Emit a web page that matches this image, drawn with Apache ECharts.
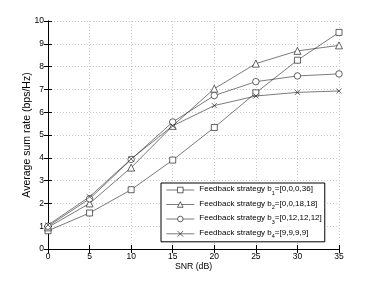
<!DOCTYPE html>
<html><head><meta charset="utf-8">
<script src="https://cdn.jsdelivr.net/npm/echarts@6/dist/echarts.min.js"></script>
<style>html,body{margin:0;padding:0;background:#fff}#c{width:374px;height:281px}</style>
</head><body><div id="c"></div>
<script>
const snr = [0, 5, 10, 15, 20, 25, 30, 35];
const b1 = [0.80, 1.58, 2.60, 3.90, 5.33, 6.85, 8.28, 9.50];
const b2 = [0.95, 2.00, 3.57, 5.40, 7.03, 8.13, 8.69, 8.93];
const b3 = [1.00, 2.20, 3.93, 5.57, 6.73, 7.34, 7.59, 7.68];
const b4 = [1.05, 2.29, 3.95, 5.40, 6.29, 6.71, 6.87, 6.93];
const names = ['b1', 'b2', 'b3', 'b4'];
const legendText = {
  b1: ['1', '=[0,0,0,36]'],
  b2: ['2', '=[0,0,18,18]'],
  b3: ['3', '=[0,12,12,12]'],
  b4: ['4', '=[9,9,9,9]']
};
const xTicks = { min: 0, max: 35, interval: 5 };
const yTicks = { min: 0, max: 10, interval: 1 };

const F = '"Liberation Sans", Arial, sans-serif';
const SQ = 'path://M0,0L10,0L10,10L0,10Z';
const TRI = 'path://M5,0L10,9L0,9Z';
const CIR = 'path://M0,5A5,5,0,1,1,10,5A5,5,0,1,1,0,5Z';
const CROSS = 'path://M0,0L10,10M10,0L0,10';
const toPairs = arr => arr.map((v, i) => [snr[i], v]);
const chart = echarts.init(document.getElementById('c'), null, { renderer: 'canvas' });
const grid = { left: 48, right: 35, top: 21, bottom: 32 };
const baseAxis = {
  axisLine: { show: true, lineStyle: { color: '#000', width: 1 } },
  axisTick: { show: true, inside: true, length: 4, lineStyle: { color: '#000' } },
  splitLine: { show: false }
};
function series(name, data, symbol, size, fill) {
  return {
    name, type: 'line', data: toPairs(data), symbol, symbolSize: size,
    showSymbol: true, animation: false,
    lineStyle: { color: '#222', width: 0.6 },
    itemStyle: { color: fill, borderColor: '#222', borderWidth: 0.7 },
    emphasis: { disabled: true }
  };
}
chart.setOption({
  backgroundColor: '#fff',
  animation: false,
  grid,
  xAxis: [
    Object.assign({}, baseAxis, {
      type: 'value', min: xTicks.min, max: xTicks.max, interval: xTicks.interval,
      name: 'SNR (dB)', nameLocation: 'middle', nameGap: 13, nameMoveOverlap: false,
      nameTextStyle: { fontFamily: F, fontSize: 8.7, color: '#000' },
      axisLabel: { fontFamily: F, fontSize: 8.5, color: '#000', margin: 3 },
      splitLine: { show: true, lineStyle: { color: '#bbb', type: [1, 2], width: 0.8 } }
    }),
    Object.assign({}, baseAxis, {
      type: 'value', position: 'top', min: xTicks.min, max: xTicks.max, interval: xTicks.interval,
      axisLabel: { show: false }
    })
  ],
  yAxis: [
    Object.assign({}, baseAxis, {
      type: 'value', min: yTicks.min, max: yTicks.max, interval: yTicks.interval,
      name: 'Average sum rate (bps/Hz)', nameLocation: 'middle', nameGap: 15, nameMoveOverlap: false,
      nameTextStyle: { fontFamily: F, fontSize: 10.5, color: '#000' },
      axisLabel: { fontFamily: F, fontSize: 8.5, color: '#000', margin: 4 },
      splitLine: { show: true, lineStyle: { color: '#bbb', type: [1, 2], width: 0.8 } }
    }),
    Object.assign({}, baseAxis, {
      type: 'value', position: 'right', min: yTicks.min, max: yTicks.max, interval: yTicks.interval,
      axisLabel: { show: false }
    })
  ],
  legend: {
    left: 161, top: 183, orient: 'vertical',
    backgroundColor: '#fff', borderColor: '#000', borderWidth: 1,
    padding: [2, 3, 2, 5], itemGap: 3.5, itemWidth: 28, itemHeight: 7, itemTextGap: 2,
    data: names,
    lineStyle: { width: 0.6, color: '#222' },
    itemStyle: { borderWidth: 0.7, borderColor: '#222' },
    formatter: n => '{a|Feedback strategy b}{s|' + legendText[n][0] + '}{a|' + legendText[n][1] + '}',
    textStyle: {
      color: '#000', fontFamily: F, fontSize: 8,
      rich: {
        a: { fontFamily: F, fontSize: 8, color: '#000', lineHeight: 10, verticalAlign: 'top' },
        s: { fontFamily: F, fontSize: 5.5, color: '#000', lineHeight: 6, padding: [5, 0, 0, 0], verticalAlign: 'top' }
      }
    }
  },
  series: [
    series('b1', b1, SQ, 6, '#fff'),
    series('b2', b2, TRI, 7, '#fff'),
    series('b3', b3, CIR, 6.5, '#fff'),
    series('b4', b4, CROSS, 5, 'none')
  ]
});
</script></body></html>
